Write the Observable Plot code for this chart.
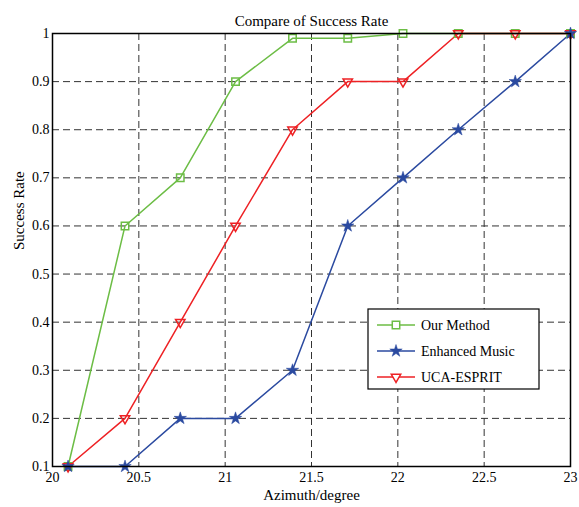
<!DOCTYPE html>
<html>
<head>
<meta charset="utf-8">
<script src="https://cdn.jsdelivr.net/npm/d3@7"></script>
<script src="https://cdn.jsdelivr.net/npm/@observablehq/plot@0.6"></script>
<style>
  html, body { margin: 0; padding: 0; background: #fff; }
  #chart svg { display: block; overflow: visible; }
</style>
</head>
<body>
<div id="chart"></div>
<script>
const azimuth = [20.09, 20.42, 20.74, 21.06, 21.39, 21.71, 22.03, 22.35, 22.68, 23.0];
const ourMethod = [0.1, 0.6, 0.7, 0.9, 0.99, 0.99, 1.0, 1.0, 1.0, 1.0];
const enhancedMusic = [0.1, 0.1, 0.2, 0.2, 0.3, 0.6, 0.7, 0.8, 0.9, 1.0];
const ucaEsprit = [0.1, 0.2, 0.4, 0.6, 0.8, 0.9, 0.9, 1.0, 1.0, 1.0];
const seriesNames = ["Our Method", "Enhanced Music", "UCA-ESPRIT"];
const xTicks = [20, 20.5, 21, 21.5, 22, 22.5, 23];
const yTicks = [0.1, 0.2, 0.3, 0.4, 0.5, 0.6, 0.7, 0.8, 0.9, 1];
const titleText = "Compare of Success Rate";
const xLabel = "Azimuth/degree";
const yLabel = "Success Rate";

const colors = { "Our Method": "#6cbd45", "Enhanced Music": "#2b4aa0", "UCA-ESPRIT": "#ee2124" };
const symbols = { "Our Method": "square", "Enhanced Music": "star", "UCA-ESPRIT": "triangle" };
const radii = { square: 4.2, star: 3.9, triangle: 3.5 };

const seriesValues = [ourMethod, enhancedMusic, ucaEsprit];
const rows = [];
seriesNames.forEach((name, i) => {
  azimuth.forEach((x, j) => rows.push({ series: name, x, y: seriesValues[i][j] }));
});

const font = "'Liberation Serif', 'Times New Roman', serif";
const W = 579, H = 507;
const mL = 52, mR = 9, mT = 33, mB = 41;

const gridStyle = { stroke: "#333", strokeOpacity: 1, strokeWidth: 1, strokeDasharray: "7,4" };
const fmt = d => String(+d.toFixed(2));

const chart = Plot.plot({
  width: W,
  height: H,
  marginLeft: mL,
  marginRight: mR,
  marginTop: mT,
  marginBottom: mB,
  style: { fontFamily: font, fontSize: "14px", color: "#000", background: "#fff", overflow: "visible" },
  x: { domain: [20, 23] },
  y: { domain: [0.1, 1] },
  marks: [
    Plot.gridX(xTicks.slice(1, -1), gridStyle),
    Plot.gridY(yTicks.slice(1, -1), gridStyle),
    Plot.axisX(xTicks, { tickSize: 0, tickPadding: 6, fontSize: 14, label: null, tickFormat: fmt }),
    Plot.axisY(yTicks, { tickSize: 0, tickPadding: 3, fontSize: 14, label: null, tickFormat: fmt }),
    Plot.line(rows, {
      x: "x", y: "y", z: "series", stroke: d => colors[d.series], strokeWidth: 1.5
    }),
    Plot.dot(rows.filter(d => d.series === "Our Method"), {
      x: "x", y: "y", symbol: "square", r: radii.square, stroke: colors["Our Method"], strokeWidth: 1.5, fill: "none"
    }),
    Plot.dot(rows.filter(d => d.series === "UCA-ESPRIT"), {
      x: "x", y: "y", symbol: "triangle", r: radii.triangle, rotate: 180, stroke: colors["UCA-ESPRIT"], strokeWidth: 1.5, fill: "none"
    }),
    Plot.dot(rows.filter(d => d.series === "Enhanced Music"), {
      x: "x", y: "y", symbol: "star", r: radii.star, fill: colors["Enhanced Music"], stroke: colors["Enhanced Music"], strokeWidth: 0.5
    }),
    Plot.frame({ stroke: "#000", strokeWidth: 1.5 }),
    Plot.text([titleText], { frameAnchor: "top", dy: -18, fontSize: 15, fill: "#000" }),
    Plot.text([xLabel], { frameAnchor: "bottom", dy: 33, fontSize: 15, fill: "#000" }),
    Plot.text([yLabel], { frameAnchor: "left", dx: -33, rotate: -90, fontSize: 15, fill: "#000" })
  ]
});

// Legend (inside plot frame, lower right)
const svg = d3.select(chart);
const lx = 368, ly = 309, lw = 171, lh = 80;
const lg = svg.append("g").attr("font-family", font).attr("font-size", 14).attr("text-anchor", "start");
lg.append("rect").attr("x", lx).attr("y", ly).attr("width", lw).attr("height", lh)
  .attr("fill", "#fff").attr("stroke", "#000").attr("stroke-width", 1.2);
const symGen = { square: d3.symbolSquare, star: d3.symbolStar, triangle: d3.symbolTriangle };
seriesNames.forEach((name, i) => {
  const cy = ly + 16 + i * 26;
  const c = colors[name];
  lg.append("line").attr("x1", lx + 9).attr("x2", lx + 47).attr("y1", cy).attr("y2", cy)
    .attr("stroke", c).attr("stroke-width", 1.5);
  const sym = symbols[name];
  const r = radii[sym];
  const p = d3.symbol(symGen[sym], Math.PI * r * r)();
  const el = lg.append("path").attr("d", p)
    .attr("transform", `translate(${lx + 28},${cy})` + (sym === "triangle" ? " rotate(180)" : ""));
  if (sym === "star") el.attr("fill", c).attr("stroke", c).attr("stroke-width", 0.5);
  else el.attr("fill", "#fff").attr("stroke", c).attr("stroke-width", 1.5);
  lg.append("text").attr("x", lx + 53).attr("y", cy).attr("dy", "0.35em").attr("fill", "#000").text(name);
});

document.getElementById("chart").appendChild(chart);
</script>
</body>
</html>
